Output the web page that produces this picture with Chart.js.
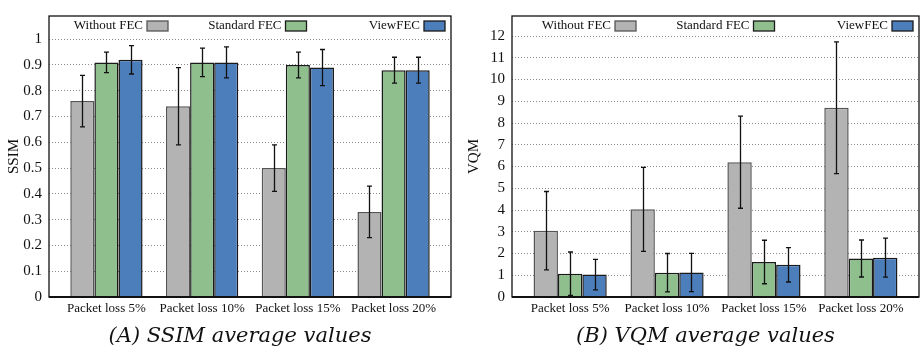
<!DOCTYPE html>
<html>
<head>
<meta charset="utf-8">
<script src="https://cdn.jsdelivr.net/npm/chart.js@4.4.0/dist/chart.umd.min.js"></script>
<style>
  body { margin: 0; background: #fff; }
  .linha { display: flex; width: 920px; height: 356px; }
  canvas { display: block; }
</style>
</head>
<body>
<div class="linha">
  <canvas id="graficoSsim" width="460" height="356"></canvas>
  <canvas id="graficoVqm" width="460" height="356"></canvas>
</div>
<script>
// Categorias e séries
const categorias = ['Packet loss 5%', 'Packet loss 10%', 'Packet loss 15%', 'Packet loss 20%'];
const nomesSeries = ['Without FEC', 'Standard FEC', 'ViewFEC'];

// SSIM (médias e desvios)
const ssimSemFec = [0.76, 0.74, 0.50, 0.33];
const ssimSemFecErro = [0.10, 0.15, 0.09, 0.10];
const ssimFecPadrao = [0.91, 0.91, 0.90, 0.88];
const ssimFecPadraoErro = [0.04, 0.055, 0.05, 0.05];
const ssimViewFec = [0.92, 0.91, 0.89, 0.88];
const ssimViewFecErro = [0.055, 0.06, 0.07, 0.05];

// VQM (médias e desvios)
const vqmSemFec = [3.05, 4.03, 6.20, 8.70];
const vqmSemFecErro = [1.80, 1.93, 2.12, 3.03];
const vqmFecPadrao = [1.07, 1.12, 1.61, 1.77];
const vqmFecPadraoErro = [1.00, 0.88, 1.00, 0.85];
const vqmViewFec = [1.03, 1.13, 1.48, 1.81];
const vqmViewFecErro = [0.70, 0.88, 0.79, 0.90];

const coresFundo = ['#b3b3b3', '#8fbf8d', '#4d7ebc'];
const coresBorda = ['#555555', '#1a1a1a', '#1a1a1a'];
const fonteSerif = "'Liberation Serif', 'Times New Roman', serif";

// barras de erro, quadro, legenda e legenda inferior
const pluginExtras = {
  id: 'extras',
  afterDatasetsDraw(chart) {
    const ctx = chart.ctx;
    const escalaY = chart.scales.y;
    const area = chart.chartArea;

    // quadro
    ctx.save();
    ctx.strokeStyle = '#111';
    ctx.lineWidth = 1.3;
    ctx.strokeRect(area.left, area.top, area.right - area.left, area.bottom - area.top);
    ctx.lineWidth = 2;
    ctx.beginPath();
    ctx.moveTo(area.left, area.bottom);
    ctx.lineTo(area.right, area.bottom);
    ctx.stroke();
    ctx.restore();

    // barras de erro
    ctx.save();
    ctx.strokeStyle = '#111';
    ctx.lineWidth = 1.3;
    chart.data.datasets.forEach((ds, i) => {
      const meta = chart.getDatasetMeta(i);
      meta.data.forEach((barra, j) => {
        const v = ds.data[j].y;
        const e = ds.erros[j];
        const yAlto = escalaY.getPixelForValue(v + e);
        const yBaixo = escalaY.getPixelForValue(v - e);
        const x = Math.round(barra.x) + 0.5;
        ctx.beginPath();
        ctx.moveTo(x, yAlto); ctx.lineTo(x, yBaixo);
        ctx.moveTo(x - 2.5, yAlto); ctx.lineTo(x + 2.5, yAlto);
        ctx.moveTo(x - 2.5, yBaixo); ctx.lineTo(x + 2.5, yBaixo);
        ctx.stroke();
      });
    });
    ctx.restore();

    // legenda (texto antes da caixa)
    ctx.save();
    ctx.font = '13px ' + fonteSerif;
    ctx.textAlign = 'right';
    ctx.textBaseline = 'middle';
    chart.data.datasets.forEach((ds, i) => {
      const n = chart.data.datasets.length;
      const direitaCaixa = area.right - 6 - (n - 1 - i) * 138.5;
      const topoCaixa = area.top + 5;
      ctx.fillStyle = ds.backgroundColor;
      ctx.fillRect(direitaCaixa - 21, topoCaixa, 21, 10);
      ctx.strokeStyle = ds.borderColor;
      ctx.lineWidth = 1.3;
      ctx.strokeRect(direitaCaixa - 21, topoCaixa, 21, 10);
      ctx.fillStyle = '#111';
      ctx.fillText(ds.label, direitaCaixa - 25, topoCaixa + 5);
    });
    ctx.restore();

    // legenda inferior
    ctx.save();
    ctx.font = 'italic 21px "DejaVu Serif", serif';
    ctx.fillStyle = '#111';
    ctx.textAlign = 'center';
    ctx.textBaseline = 'middle';
    ctx.fillText(chart.options.legendaInferior, (area.left + area.right) / 2 - 10, area.bottom + 40);
    ctx.restore();
  }
};

function criarGrafico(idCanvas, listas, erros, cfg) {
  const ctx = document.getElementById(idCanvas).getContext('2d');
  return new Chart(ctx, {
    type: 'bar',
    data: {
      datasets: listas.map((valores, i) => ({
        label: nomesSeries[i],
        data: valores.map((v, j) => ({ x: j, y: v })),
        erros: erros[i],
        backgroundColor: coresFundo[i],
        borderColor: coresBorda[i],
        borderWidth: 1.5,
        categoryPercentage: 0.755,
        barPercentage: 1
      }))
    },
    options: {
      responsive: false,
      animation: false,
      legendaInferior: cfg.legendaInferior,
      layout: { padding: { left: 0, right: cfg.direita, top: 3, bottom: 39 } },
      plugins: { legend: { display: false }, tooltip: { enabled: false } },
      scales: {
        x: {
          type: 'linear', min: -0.6, max: 3.6, offset: false,
          grid: { display: false, drawTicks: false }, border: { display: false },
          afterBuildTicks: s => { s.ticks = categorias.map((_, i) => ({ value: i })); },
          afterFit: s => { s.height = 20; },
          ticks: {
            autoSkip: false, maxRotation: 0, padding: 4, color: '#111',
            font: { family: fonteSerif, size: 13 },
            callback: v => categorias[v]
          }
        },
        y: {
          min: 0, max: cfg.max,
          afterBuildTicks: s => { s.ticks = s.ticks.filter(t => t.value <= cfg.ultimo + 1e-6); },
          afterFit: s => { s.width = cfg.larguraY; },
          grid: { color: '#8a8a8a', lineWidth: 1, drawTicks: false },
          border: { display: false, dash: [1, 2] },
          title: { display: true, text: cfg.titulo, color: '#111', padding: { top: 5, bottom: 0 }, font: { family: fonteSerif, size: 15 } },
          ticks: {
            stepSize: cfg.passo, padding: 7, color: '#111',
            font: { family: fonteSerif, size: 15 },
            callback: v => String(Number(v.toFixed(1)))
          }
        }
      }
    },
    plugins: [pluginExtras]
  });
}

window.addEventListener('DOMContentLoaded', () => {
  criarGrafico('graficoSsim',
    [ssimSemFec, ssimFecPadrao, ssimViewFec],
    [ssimSemFecErro, ssimFecPadraoErro, ssimViewFecErro],
    { max: 1.09, ultimo: 1, passo: 0.1, titulo: 'SSIM', larguraY: 49, direita: 9, legendaInferior: '(A) SSIM average values' });

  criarGrafico('graficoVqm',
    [vqmSemFec, vqmFecPadrao, vqmViewFec],
    [vqmSemFecErro, vqmFecPadraoErro, vqmViewFecErro],
    { max: 12.92, ultimo: 12, passo: 1, titulo: 'VQM', larguraY: 52, direita: 1, legendaInferior: '(B) VQM average values' });
});
</script>
</body>
</html>
